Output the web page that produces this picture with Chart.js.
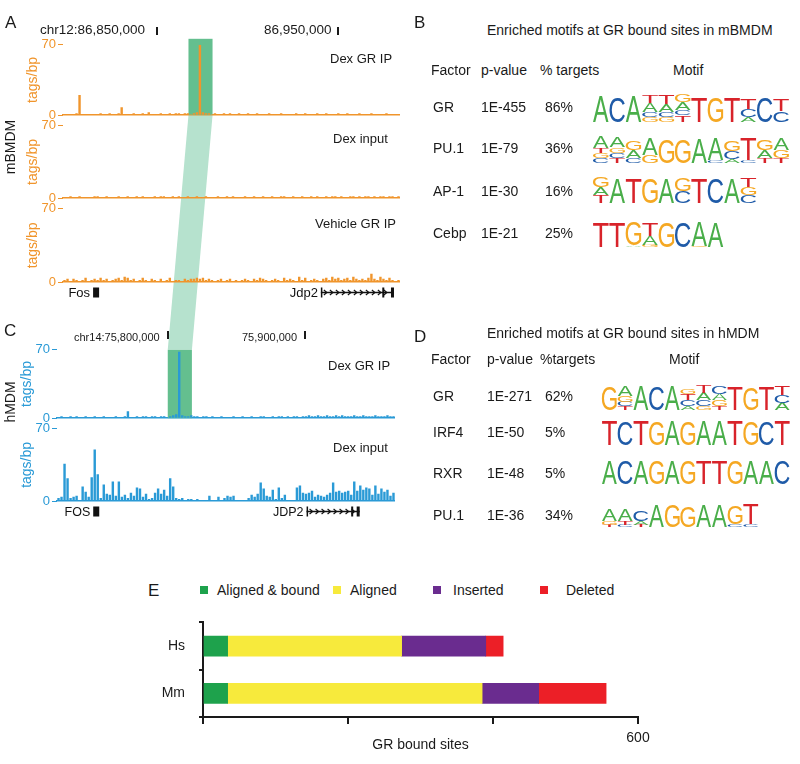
<!DOCTYPE html>
<html lang="en">
<head>
<meta charset="UTF-8">
<title>GR binding in mouse and human macrophages</title>
<script src="https://cdn.jsdelivr.net/npm/chart.js"></script>
<style>
  body { margin: 0; background: #fff; font-family: 'Liberation Sans', Arial, sans-serif; color: #1a1a1a; }
  #page { position: relative; width: 800px; height: 764px; overflow: hidden; }
  .t { position: absolute; white-space: nowrap; line-height: 1; }
  .rot { position: absolute; white-space: nowrap; line-height: 1; font-size: 14px; transform: translate(-50%, -50%) rotate(-90deg); }
  .bar { position: absolute; width: 1.5px; height: 8px; background: #1a1a1a; }
  canvas { position: absolute; }
</style>
</head>
<body>
<div id="page">
  <svg id="band" width="800" height="764" style="position:absolute;left:0;top:0"></svg>

  <!-- A: mouse tracks -->
  <canvas id="a1" width="400" height="90" style="left:0;top:35px"></canvas>
  <canvas id="a2" width="400" height="92" style="left:0;top:116px"></canvas>
  <canvas id="a3" width="400" height="105" style="left:0;top:199px"></canvas>
  <!-- C: human tracks -->
  <canvas id="c1" width="395" height="88" style="left:0;top:340px"></canvas>
  <canvas id="c2" width="395" height="104" style="left:0;top:419px"></canvas>

  <canvas id="logos" width="220" height="460" style="left:580px;top:80px"></canvas>
  <canvas id="bars" width="520" height="164" style="left:140px;top:600px"></canvas>

  <div class="bar" style="left:156px;top:27px"></div>
  <div class="bar" style="left:337px;top:27px"></div>
  <div class="bar" style="left:167px;top:331px"></div>
  <div class="bar" style="left:304px;top:331px"></div>
  <div class="rot" style="left:10px;top:147px">mBMDM</div>
  <div class="rot" style="left:10px;top:402px">hMDM</div>
</div>

<script>
// ---- genome tracks (tags/bp per ~1.6 kb bin) ----
const MM_DEX_GR = [
  1,1,1,1,2,20,1,1,1,1,1,1,2,1,1,2,1,1,2,8,
  1,1,1,2,1,1,2,1,3,1,1,1,2,1,1,2,1,2,2,1,
  2,2,1,2,3,70,3,2,2,1,2,1,1,2,1,2,1,1,2,1,
  1,2,1,1,2,1,1,1,2,1,1,1,2,1,1,1,1,2,1,1,
  2,1,1,1,2,1,1,2,1,1,1,2,1,1,2,1,1,1,2,1,
  1,1,2,1,1,1,1,2,1,1,1,1
];
const MM_DEX_INPUT = [
  1,1,2,1,1,2,1,1,0,1,2,2,1,1,2,1,1,1,2,1,
  1,2,1,1,2,1,2,1,1,1,2,1,2,2,1,1,2,1,2,1,
  1,2,1,1,2,1,1,2,1,1,1,2,1,1,2,1,2,1,1,1,
  2,1,1,2,1,1,2,1,1,2,1,1,2,2,1,1,2,1,1,2,
  1,1,2,1,2,1,1,2,1,2,2,1,2,1,1,2,2,1,2,1,
  2,2,1,2,1,2,2,1,2,2,1,2
];
const MM_VEH_GR = [
  2,3,1,3,2,1,2,4,1,2,3,2,4,2,3,1,2,3,4,2,
  5,4,2,3,1,2,4,2,1,3,2,1,3,1,2,4,1,2,2,1,
  3,2,3,3,4,3,4,2,3,2,1,2,3,1,2,3,1,2,1,2,
  3,2,1,3,2,4,3,2,1,2,3,2,1,4,2,3,2,1,5,2,
  4,1,2,3,2,1,3,4,2,5,3,4,2,3,4,2,5,3,2,3,
  2,4,8,3,2,5,3,2,4,2,1,2
];
const HS_DEX_GR = [
  1,2,1,1,2,1,2,1,1,2,1,1,2,1,1,2,1,1,1,2,
  1,1,2,7,1,1,2,1,2,2,1,2,2,1,2,2,1,2,3,4,
  68,3,2,2,3,2,2,1,2,2,1,2,1,1,2,1,1,1,2,1,
  1,2,1,1,2,1,1,2,2,1,1,2,1,2,2,1,2,1,2,2,
  1,2,2,3,2,2,3,2,2,3,2,2,3,2,3,2,2,2,3,2,
  2,3,2,2,2,3,2,2,2,3,2,2
];
const HS_DEX_INPUT = [
  3,4,36,22,3,4,5,1,14,9,4,23,50,26,3,16,7,6,19,5,
  19,4,6,3,8,5,13,12,4,7,2,3,8,12,7,11,5,22,14,3,
  2,3,0,2,2,1,2,0,0,1,5,0,1,4,0,3,5,4,5,0,
  0,0,0,3,6,4,7,18,12,5,4,11,2,13,3,6,0,0,0,13,
  15,8,7,8,10,4,6,5,4,6,8,18,9,10,8,9,10,6,19,10,
  15,11,13,12,6,15,7,12,9,11,5,8
];
// bound region (bin units) and genes
const PEAK_MM = [41.2, 49.2];
const PEAK_HS = [36.2, 44.2];
const GENES_MM = [{ name: 'Fos', from: 9.5, to: 11.5, kind: 'block' }, { name: 'Jdp2', from: 85.2, to: 109.5, kind: 'span' }];
const GENES_HS = [{ name: 'FOS', from: 11.5, to: 13.5, kind: 'block' }, { name: 'JDP2', from: 82.2, to: 99.8, kind: 'span' }];

// ---- motif tables ----
const FACTORS_MM = ['GR', 'PU.1', 'AP-1', 'Cebp'];
const PVALUES_MM = ['1E-455', '1E-79', '1E-30', '1E-21'];
const TARGETS_MM = ['86%', '36%', '16%', '25%'];
const FACTORS_HS = ['GR', 'IRF4', 'RXR', 'PU.1'];
const PVALUES_HS = ['1E-271', '1E-50', '1E-48', '1E-36'];
const TARGETS_HS = ['62%', '5%', '5%', '34%'];

// letter stacks, bottom to top: [base, height as share of a full letter]
const MOTIF_MM_GR = [
  [['A',1]], [['C',0.95]], [['A',1]],
  [['G',0.18],['C',0.22],['A',0.32],['T',0.3]],
  [['G',0.2],['C',0.2],['A',0.28],['T',0.32]],
  [['T',0.25],['C',0.2],['A',0.3],['G',0.28]],
  [['T',0.95]], [['G',0.95]], [['T',0.95]],
  [['A',0.2],['C',0.3],['T',0.38]],
  [['C',0.95]],
  [['C',0.42],['T',0.45]]
];
const MOTIF_MM_PU1 = [
  [['C',0.18],['G',0.2],['T',0.2],['A',0.42]],
  [['T',0.18],['C',0.2],['G',0.22],['A',0.4]],
  [['C',0.2],['A',0.3],['G',0.35]],
  [['G',0.3],['A',0.65]],
  [['G',0.9]], [['G',0.9]], [['A',0.95]],
  [['C',0.12],['A',0.82]],
  [['A',0.15],['C',0.3],['G',0.42]],
  [['C',0.12],['T',0.85]],
  [['T',0.2],['A',0.3],['G',0.4]],
  [['T',0.2],['G',0.3],['A',0.42]]
];
const MOTIF_MM_AP1 = [
  [['T',0.3],['A',0.3],['G',0.4]],
  [['A',0.95]], [['T',0.95]], [['G',0.95]], [['A',0.95]],
  [['C',0.45],['G',0.5]],
  [['T',0.95]], [['C',0.95]], [['A',0.95]],
  [['C',0.3],['G',0.3],['T',0.35]]
];
const MOTIF_MM_CEBP = [
  [['T',0.95]], [['T',0.95]],
  [['A',0.05],['G',0.9]],
  [['G',0.08],['A',0.35],['T',0.5]],
  [['G',0.95]], [['C',0.95]],
  [['G',0.05],['A',0.92]],
  [['A',0.95]]
];
const MOTIF_HS_GR = [
  [['G',1]],
  [['T',0.15],['C',0.2],['G',0.25],['A',0.4]],
  [['A',1]], [['C',1]], [['A',1]],
  [['A',0.15],['C',0.25],['T',0.25],['G',0.2]],
  [['G',0.15],['C',0.25],['A',0.3],['T',0.3]],
  [['T',0.15],['G',0.25],['A',0.25],['C',0.3]],
  [['T',0.95]], [['G',0.95]], [['T',0.95]],
  [['A',0.3],['C',0.3],['T',0.35]]
];
const MOTIF_HS_IRF4 = 'TCTGAGAATGCT'.split('').map(b => [[b, 1]]);
const MOTIF_HS_RXR = 'ACAGAGTTGAAC'.split('').map(b => [[b, 0.97]]);
const MOTIF_HS_PU1 = [
  [['T',0.1],['G',0.15],['A',0.5]],
  [['C',0.1],['T',0.15],['A',0.5]],
  [['T',0.1],['A',0.15],['C',0.45]],
  [['A',0.9]], [['G',0.9]], [['G',0.85]], [['A',0.9]], [['A',0.9]],
  [['C',0.1],['G',0.75]],
  [['C',0.1],['T',0.85]]
];

// ---- E: conservation of GR bound sites ----
const SPECIES = ['Hs', 'Mm'];
const SITE_CLASSES = ['Aligned & bound', 'Aligned', 'Inserted', 'Deleted'];
const ALIGNED_BOUND = [34, 34];
const ALIGNED = [240, 351];
const INSERTED = [116, 78];
const DELETED = [24, 93];
const CLASS_COLORS = ['#1ea24c', '#f7ea3c', '#6a2c8f', '#ec1f27'];

const ORANGE = '#f0952c';
const BLUE = '#2a9ad6';
const PEAK_DARK = 'rgb(100,191,143)';
const PEAK_LIGHT = 'rgb(182,226,206)';
const FONT = "'Liberation Sans', Arial, sans-serif";

Chart.defaults.font.family = FONT;
Chart.defaults.color = '#1a1a1a';

const page = document.getElementById('page');
function addText(txt, x, cy, size, color) {
  const d = document.createElement('div');
  d.className = 't';
  d.textContent = txt;
  d.style.left = x + 'px';
  d.style.top = (cy - size / 2) + 'px';
  d.style.fontSize = size + 'px';
  if (color) d.style.color = color;
  page.appendChild(d);
}

function drawGenes(chart, genes, font) {
  const { ctx, chartArea, scales: { x } } = chart;
  const y = chartArea.bottom + 10.5;
  ctx.save();
  ctx.fillStyle = ctx.strokeStyle = '#111';
  ctx.font = font;
  ctx.textAlign = 'right';
  ctx.textBaseline = 'middle';
  genes.forEach(g => {
    const x0 = x.getPixelForValue(g.from), x1 = x.getPixelForValue(g.to);
    ctx.fillText(g.name, x0 - 3, y + 1);
    if (g.kind === 'block') {
      ctx.fillRect(x0, y - 5, x1 - x0, 10);
      return;
    }
    ctx.lineWidth = 1.5;
    ctx.beginPath(); ctx.moveTo(x0, y); ctx.lineTo(x1, y); ctx.stroke();
    ctx.fillRect(x0, y - 5, 1.5, 10);
    ctx.fillRect(x0 + (x1 - x0) * 0.84, y - 5, 2, 10);
    ctx.fillRect(x1 - 3, y - 5, 3, 10);
    ctx.lineWidth = 1.2;
    for (let cx = x0 + 5; cx < x1 - 5; cx += 6) {
      ctx.beginPath(); ctx.moveTo(cx - 2, y - 2.5); ctx.lineTo(cx + 1, y); ctx.lineTo(cx - 2, y + 2.5); ctx.stroke();
    }
  });
  ctx.restore();
}

function trackChart(id, values, color, o) {
  const extras = {
    id: 'extras',
    beforeDatasetsDraw(chart) {
      if (!o.peak) return;
      const { ctx, chartArea, scales: { x } } = chart;
      const x0 = x.getPixelForValue(o.peak[0]), x1 = x.getPixelForValue(o.peak[1]);
      ctx.save();
      ctx.fillStyle = PEAK_DARK;
      ctx.fillRect(x0, chartArea.top - o.above, x1 - x0, chartArea.bottom - chartArea.top + o.above);
      ctx.restore();
    },
    afterDraw(chart) {
      if (o.genes) drawGenes(chart, o.genes, o.geneFont);
    }
  };
  return new Chart(document.getElementById(id), {
    type: 'bar',
    data: {
      labels: values.map((v, i) => i),
      datasets: [{ data: values, backgroundColor: color, borderWidth: 0, barPercentage: 0.8, categoryPercentage: 1 }]
    },
    options: {
      responsive: false,
      animation: false,
      devicePixelRatio: 1,
      layout: { padding: { left: o.left, top: 8, right: 0, bottom: o.bottom } },
      plugins: { legend: { display: false }, tooltip: { enabled: false } },
      scales: {
        x: {
          ticks: { display: false },
          grid: { display: false },
          border: { color: color, width: 1.5 },
          afterFit(s) { s.height = 0; }
        },
        y: {
          min: 0, max: 70,
          afterBuildTicks(s) { s.ticks = [{ value: 0 }, { value: 70 }]; },
          ticks: { color: color, font: { size: 13 }, padding: 2 },
          grid: { drawOnChartArea: false, tickLength: 5, color: color, lineWidth: 1 },
          border: { display: false },
          title: { display: true, text: 'tags/bp', color: color, font: { size: 14 }, padding: 0 },
          afterFit(s) { s.width = 38; }
        }
      }
    },
    plugins: [extras]
  });
}

const a1 = trackChart('a1', MM_DEX_GR, ORANGE, { left: 25, bottom: 8, peak: PEAK_MM, above: 6 });
trackChart('a2', MM_DEX_INPUT, ORANGE, { left: 25, bottom: 8 });
trackChart('a3', MM_VEH_GR, ORANGE, { left: 25, bottom: 22, genes: GENES_MM, geneFont: '13px ' + FONT });
const c1 = trackChart('c1', HS_DEX_GR, BLUE, { left: 19, bottom: 8, peak: PEAK_HS, above: 0 });
trackChart('c2', HS_DEX_INPUT, BLUE, { left: 19, bottom: 22, genes: GENES_HS, geneFont: '12.5px ' + FONT });

// light band linking the orthologous bound region in both species
(function () {
  const ax = a1.scales.x, cx = c1.scales.x;
  const ay = a1.canvas.offsetTop + a1.chartArea.bottom;
  const cy = c1.canvas.offsetTop + c1.chartArea.top;
  const pts = [
    [ax.getPixelForValue(PEAK_MM[0]), ay], [ax.getPixelForValue(PEAK_MM[1]), ay],
    [cx.getPixelForValue(PEAK_HS[1]), cy], [cx.getPixelForValue(PEAK_HS[0]), cy]
  ];
  const poly = document.createElementNS('http://www.w3.org/2000/svg', 'polygon');
  poly.setAttribute('points', pts.map(p => p.join(',')).join(' '));
  poly.setAttribute('fill', PEAK_LIGHT);
  document.getElementById('band').appendChild(poly);
})();

// sequence logos
const BASE_COLORS = { A: '#4aae4a', C: '#1f5ba8', G: '#f5a823', T: '#d8232a' };
const lctx = document.getElementById('logos').getContext('2d');
function drawLetter(ch, x, yb, w, h) {
  lctx.font = '100px ' + FONT;
  const m = lctx.measureText(ch);
  const gw = m.actualBoundingBoxLeft + m.actualBoundingBoxRight;
  const gh = m.actualBoundingBoxAscent + m.actualBoundingBoxDescent;
  lctx.save();
  lctx.translate(x, yb);
  lctx.scale(w / gw, h / gh);
  lctx.fillStyle = BASE_COLORS[ch];
  lctx.fillText(ch, m.actualBoundingBoxLeft, -m.actualBoundingBoxDescent);
  lctx.restore();
}
function drawLogo(motif, x0, yb, colW, fullH) {
  motif.forEach((stack, i) => {
    let y = yb;
    stack.forEach(([ch, h]) => {
      drawLetter(ch, x0 - 580 + i * colW, y - 80, colW * 0.95, h * fullH);
      y -= h * fullH;
    });
  });
}
drawLogo(MOTIF_MM_GR, 593, 122, 16.4, 26);
drawLogo(MOTIF_MM_PU1, 593, 163, 16.4, 26);
drawLogo(MOTIF_MM_AP1, 593, 203, 16.4, 26);
drawLogo(MOTIF_MM_CEBP, 593, 247, 16.4, 26);
drawLogo(MOTIF_HS_GR, 602, 410, 15.7, 24);
drawLogo(MOTIF_HS_IRF4, 602, 445, 15.7, 24);
drawLogo(MOTIF_HS_RXR, 602, 484, 15.7, 24);
drawLogo(MOTIF_HS_PU1, 602, 527, 15.7, 24);

// E: stacked bars
const SEGMENTS = [ALIGNED_BOUND, ALIGNED, INSERTED, DELETED];
new Chart(document.getElementById('bars'), {
  type: 'bar',
  data: {
    labels: SPECIES,
    datasets: SEGMENTS.map((vals, i) => ({
      label: SITE_CLASSES[i], data: vals, backgroundColor: CLASS_COLORS[i], borderWidth: 0, barThickness: 20
    }))
  },
  options: {
    indexAxis: 'y',
    responsive: false,
    animation: false,
    devicePixelRatio: 1,
    layout: { padding: { left: 0, top: 22, right: 22, bottom: 0 } },
    plugins: { legend: { display: false }, tooltip: { enabled: false } },
    scales: {
      x: {
        stacked: true, min: 0, max: 600,
        ticks: { stepSize: 200, color: '#1a1a1a', font: { size: 14 }, padding: 6, maxRotation: 0,
                 callback: v => (v === 600 ? '600' : '') },
        grid: { drawOnChartArea: false, tickLength: 7, color: '#1a1a1a', lineWidth: 2 },
        border: { color: '#1a1a1a', width: 2 },
        title: { display: true, text: 'GR bound sites', color: '#1a1a1a', font: { size: 14 }, padding: { top: 0, bottom: 10 } },
        afterFit(s) { s.height = 47; }
      },
      y: {
        stacked: true,
        ticks: { color: '#1a1a1a', font: { size: 14 }, padding: 14 },
        grid: { offset: true, drawOnChartArea: false, tickLength: 4, color: '#1a1a1a', lineWidth: 2 },
        border: { color: '#1a1a1a', width: 2 },
        afterFit(s) { s.width = 63; }
      }
    }
  }
});

// legend of E
const LEGEND_X = [200, 333, 433, 540];
const LEGEND_GAP = [17, 17, 20, 26];
SITE_CLASSES.forEach((name, i) => {
  const sq = document.createElement('div');
  sq.style.cssText = `position:absolute;left:${LEGEND_X[i]}px;top:586px;width:8px;height:8px;background:${CLASS_COLORS[i]}`;
  page.appendChild(sq);
  addText(name, LEGEND_X[i] + LEGEND_GAP[i], 590, 14);
});

// panel text
addText('A', 5, 22, 17);
addText('chr12:86,850,000', 40, 30, 13.5);
addText('86,950,000', 264, 30, 13.5);
addText('Dex GR IP', 330, 58, 13);
addText('Dex input', 333, 138, 13);
addText('Vehicle GR IP', 315, 223, 13);

addText('C', 4, 330, 17);
addText('chr14:75,800,000', 74, 337, 11);
addText('75,900,000', 242, 337, 11);
addText('Dex GR IP', 328, 365, 13);
addText('Dex input', 333, 447, 13);

function motifTable(letter, title, headers, headerY, factors, pvals, targets, rowsY, pvalX) {
  addText(letter, 414, headerY.letter, 17);
  addText(title, 487, headerY.title, 14);
  addText('Factor', 431, headerY.cols, 14);
  addText('p-value', pvalX, headerY.cols, 14);
  addText(headers, 540, headerY.cols, 14);
  addText('Motif', headerY.motifX, headerY.cols, 14);
  factors.forEach((f, i) => {
    addText(f, 433, rowsY[i], 14);
    addText(pvals[i], pvalX, rowsY[i], 14);
    addText(targets[i], 545, rowsY[i], 14);
  });
}
motifTable('B', 'Enriched motifs at GR bound sites in mBMDM', '% targets',
  { letter: 22, title: 30, cols: 70, motifX: 673 }, FACTORS_MM, PVALUES_MM, TARGETS_MM, [107, 148, 191, 233], 481);
motifTable('D', 'Enriched motifs at GR bound sites in hMDM', '%targets',
  { letter: 336, title: 333, cols: 359, motifX: 669 }, FACTORS_HS, PVALUES_HS, TARGETS_HS, [396, 432, 473, 515], 487);

addText('E', 148, 590, 17);
</script>
</body>
</html>
